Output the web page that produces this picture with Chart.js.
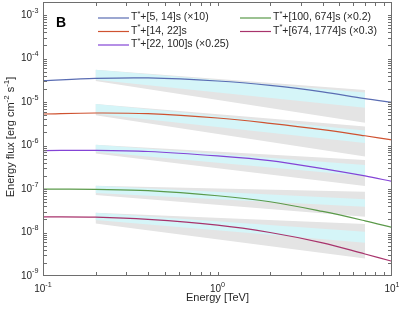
<!DOCTYPE html>
<html><head><meta charset="utf-8">
<script src="https://cdn.jsdelivr.net/npm/chart.js@4.4.1/dist/chart.umd.min.js"></script>
<style>html,body{margin:0;padding:0;background:#fff}#wrap{width:399px;height:313px;position:relative}</style>
</head><body><div id="wrap"><canvas id="c"></canvas></div>
<script>
// ---- data ----
const energy = [0.1, 0.2, 0.4, 1, 2, 4, 7, 10];
const seriesLabels = ["[5, 14]s (\u00d710)", "[14, 22]s", "[22, 100]s (\u00d70.25)", "[100, 674]s (\u00d70.2)", "[674, 1774]s (\u00d70.3)"];
const flux1 = [3.11e-5, 3.5e-5, 3.58e-5, 3.05e-5, 2.42e-5, 1.72e-5, 1.2e-5, 9.9e-6];
const flux2 = [5.31e-6, 5.6e-6, 5.4e-6, 4.3e-6, 3.25e-6, 2.33e-6, 1.68e-6, 1.35e-6];
const flux3 = [7.67e-7, 7.75e-7, 7.3e-7, 5.78e-7, 4.5e-7, 2.95e-7, 2.0e-7, 1.5e-7];
const flux4 = [1.0e-7, 9.8e-8, 9.2e-8, 7.0e-8, 5.1e-8, 3.05e-8, 1.86e-8, 1.31e-8];
const flux5 = [2.3e-8, 2.25e-8, 2.0e-8, 1.48e-8, 1.0e-8, 5.8e-9, 3.2e-9, 2.18e-9];
const bandEnergy = [0.2, 7];
const grayHiStart = [5.5e-5, 9.0e-6, 1.04e-6, 1.19e-7, 2.84e-8];
const grayHiEnd   = [1.9e-5, 2.75e-6, 4.68e-7, 8.7e-8, 1.56e-8];
const grayLoStart = [3.06e-5, 5.0e-6, 6.6e-7, 7.3e-8, 1.62e-8];
const grayLoEnd   = [3.34e-6, 5.6e-7, 1.17e-7, 2.3e-8, 2.52e-9];
const cyanHiStart = [5.5e-5, 9.0e-6, 1.04e-6, 1.19e-7, 2.84e-8];
const cyanHiEnd   = [1.65e-5, 2.22e-6, 3.59e-7, 5.8e-8, 1.04e-8];
const cyanLoStart = [3.28e-5, 5.4e-6, 7.2e-7, 8.1e-8, 1.93e-8];
const cyanLoEnd   = [7.4e-6, 1.14e-6, 2.0e-7, 3.9e-8, 5.8e-9];
const xTickExps = [-1, 0, 1];
const yTickExps = [-9, -8, -7, -6, -5, -4, -3];

// ---- styles ----
const lineColors = ['#5a6db3', '#cf5230', '#8444d6', '#5b9a4a', '#a8336c'];
const grayFill = '#e4e4e4', cyanFill = '#d5f5f8';
const fluxes = [flux1, flux2, flux3, flux4, flux5];
const pts = (xs, ys) => xs.map((x, i) => ({x: x, y: ys[i]}));
const datasets = [];
for (let b = 0; b < 5; b++) {
  const gi = datasets.length;
  datasets.push({data: pts(bandEnergy, [grayHiStart[b], grayHiEnd[b]]), borderColor: 'rgba(0,0,0,0)', borderWidth: 0, pointRadius: 0, fill: false, order: 3});
  datasets.push({data: pts(bandEnergy, [grayLoStart[b], grayLoEnd[b]]), borderColor: 'rgba(0,0,0,0)', borderWidth: 0, pointRadius: 0, fill: {target: gi}, backgroundColor: grayFill, order: 3});
  const ci = datasets.length;
  datasets.push({data: pts(bandEnergy, [cyanHiStart[b], cyanHiEnd[b]]), borderColor: 'rgba(0,0,0,0)', borderWidth: 0, pointRadius: 0, fill: false, order: 2});
  datasets.push({data: pts(bandEnergy, [cyanLoStart[b], cyanLoEnd[b]]), borderColor: 'rgba(0,0,0,0)', borderWidth: 0, pointRadius: 0, fill: {target: ci}, backgroundColor: cyanFill, order: 2});
}
for (let s = 0; s < 5; s++) {
  datasets.push({label: seriesLabels[s], data: pts(energy, fluxes[s]), borderColor: lineColors[s], borderWidth: 1.2, pointRadius: 0, fill: false, tension: 0.35, order: 1, isSeries: true});
}

const FONT = '"Liberation Sans", Arial, sans-serif';
function pow10(ctx, e, x, y, align, size) {
  const ss = size * 0.72;
  ctx.font = size + 'px ' + FONT; const w1 = ctx.measureText('10').width;
  ctx.font = ss + 'px ' + FONT; const w2 = ctx.measureText(String(e)).width;
  const tot = w1 + w2;
  let x0 = align === 'right' ? x - tot : x - tot / 2;
  ctx.textAlign = 'left'; ctx.textBaseline = 'middle';
  ctx.font = size + 'px ' + FONT; ctx.fillText('10', x0, y);
  ctx.font = ss + 'px ' + FONT; ctx.fillText(String(e), x0 + w1, y - size * 0.45);
}
function segText(ctx, segs, size, x, y, align) {
  const ss = size * 0.72;
  let tot = 0;
  segs.forEach(s => { ctx.font = (s[1] ? ss : size) + 'px ' + FONT; tot += ctx.measureText(s[0]).width; });
  let cx = align === 'center' ? x - tot / 2 : x;
  ctx.textAlign = 'left'; ctx.textBaseline = 'middle';
  segs.forEach(s => {
    ctx.font = (s[1] ? ss : size) + 'px ' + FONT;
    ctx.fillText(s[0], cx, s[1] ? y - size * 0.35 : y);
    cx += ctx.measureText(s[0]).width;
  });
}

const decor = {
  id: 'decor',
  afterDraw(chart) {
    const ctx = chart.ctx, a = chart.chartArea, xs = chart.scales.x, ys = chart.scales.y;
    ctx.save();
    ctx.strokeStyle = '#6e6e6e'; ctx.lineWidth = 1;
    const L = Math.round(a.left) + 0.5, R = Math.round(a.right) - 0.5, T = Math.round(a.top) + 0.5, B = Math.round(a.bottom) - 0.5;
    ctx.strokeRect(L, T, R - L, B - T);
    const tl = 3.5;
    ctx.beginPath();
    for (let e = -1; e < 1; e++) for (let m = 1; m <= 9; m++) {
      const v = m * Math.pow(10, e); if (v <= 0.1 || v >= 10) continue;
      const px = Math.round(xs.getPixelForValue(v)) + 0.5;
      ctx.moveTo(px, B); ctx.lineTo(px, B - tl); ctx.moveTo(px, T); ctx.lineTo(px, T + tl);
    }
    for (let e = -9; e < -2; e++) for (let m = 1; m <= 9; m++) {
      const v = m * Math.pow(10, e); if (v <= 1e-9 || v >= 2e-3) continue;
      const py = Math.round(ys.getPixelForValue(v)) + 0.5;
      ctx.moveTo(L, py); ctx.lineTo(L + tl, py); ctx.moveTo(R, py); ctx.lineTo(R - tl, py);
    }
    ctx.stroke();
    ctx.fillStyle = '#262626';
    xTickExps.forEach(e => pow10(ctx, e, xs.getPixelForValue(Math.pow(10, e)), B + 14, 'center', 10));
    yTickExps.forEach(e => pow10(ctx, e, L - 5, ys.getPixelForValue(Math.pow(10, e)), 'right', 10));
    segText(ctx, [['Energy [TeV]', false]], 11, (L + R) / 2, 298, 'center');
    ctx.save(); ctx.translate(11, 137); ctx.rotate(-Math.PI / 2);
    segText(ctx, [['Energy flux [erg cm', false], ['-2', true], [' s', false], ['-1', true], [']', false]], 11, 0, 0, 'center');
    ctx.restore();
    ctx.fillStyle = '#000'; ctx.font = 'bold 14px ' + FONT; ctx.textAlign = 'left'; ctx.textBaseline = 'middle';
    ctx.fillText('B', 56, 23);
    const series = chart.data.datasets.filter(d => d.isSeries);
    const pos = [[98, 17.5], [98, 31], [98, 44.5], [240, 17.5], [240, 31]];
    series.forEach((d, i) => {
      const [lx, ly] = pos[i];
      ctx.strokeStyle = d.borderColor; ctx.lineWidth = 1.2;
      ctx.beginPath(); ctx.moveTo(lx, ly + 0.5); ctx.lineTo(lx + 31, ly + 0.5); ctx.stroke();
      ctx.fillStyle = '#262626';
      segText(ctx, [['T', false], ['*', true], ['+' + d.label, false]], 10.5, lx + 33, ly, 'left');
    });
    ctx.restore();
  }
};

new Chart(document.getElementById('c'), {
  type: 'line',
  data: {datasets: datasets},
  options: {
    responsive: true, maintainAspectRatio: false, animation: false,
    layout: {padding: {left: 43, right: 7, top: 2, bottom: 37}},
    plugins: {legend: {display: false}, tooltip: {enabled: false}, filler: {propagate: false}},
    scales: {
      x: {type: 'logarithmic', min: 0.1, max: 10, display: false},
      y: {type: 'logarithmic', min: 1e-9, max: 2e-3, display: false}
    }
  },
  plugins: [decor]
});
</script></body></html>
